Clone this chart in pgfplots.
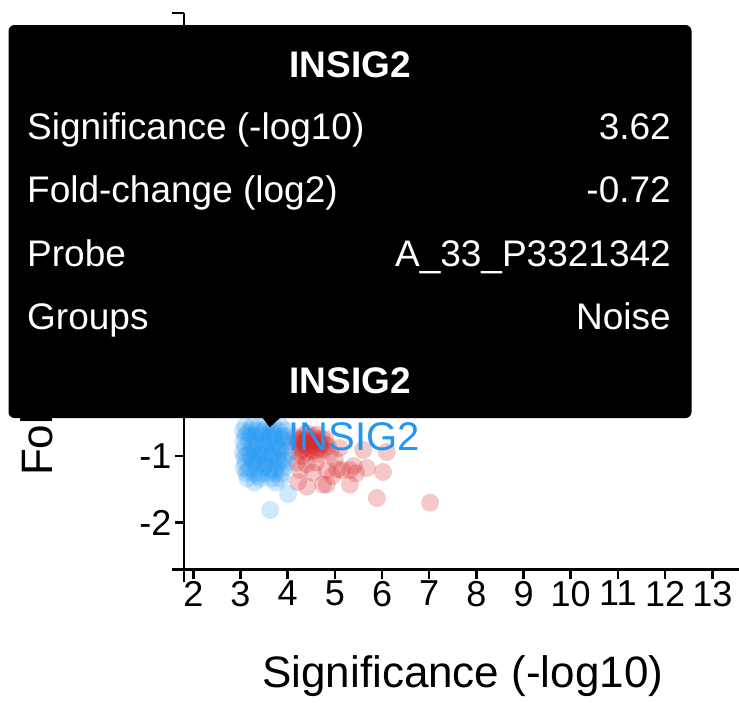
\documentclass[border=0pt]{standalone}
\usepackage{pgfplots}
\usepackage{pgfplotstable}
\pgfplotsset{compat=1.18}
\usepackage{fontspec}
\setmainfont{Liberation Sans}

\definecolor{sigred}{RGB}{214,39,40}
\definecolor{noiseblue}{RGB}{33,150,243}

% probes below the fold-change cut (group: Noise)
\pgfplotstableread{
x y
3.10 -0.55
3.25 -0.55
3.40 -0.55
3.55 -0.55
3.70 -0.55
3.85 -0.55
3.05 -0.62
3.20 -0.62
3.35 -0.62
3.50 -0.62
3.65 -0.62
3.80 -0.62
3.95 -0.62
3.10 -0.70
3.22 -0.70
3.30 -0.70
3.45 -0.70
3.58 -0.70
3.62 -0.72
3.72 -0.70
3.88 -0.70
3.98 -0.70
3.06 -0.78
3.18 -0.78
3.33 -0.78
3.47 -0.78
3.60 -0.78
3.75 -0.78
3.90 -0.78
4.00 -0.78
3.10 -0.86
3.25 -0.86
3.38 -0.86
3.52 -0.86
3.66 -0.86
3.80 -0.86
3.93 -0.86
3.05 -0.94
3.20 -0.94
3.30 -0.94
3.45 -0.94
3.57 -0.94
3.70 -0.94
3.85 -0.94
4.00 -0.94
3.08 -1.02
3.22 -1.02
3.36 -1.02
3.50 -1.02
3.63 -1.02
3.78 -1.02
3.92 -1.02
3.10 -1.10
3.27 -1.10
3.40 -1.10
3.55 -1.10
3.68 -1.10
3.82 -1.10
3.97 -1.10
3.07 -1.18
3.20 -1.18
3.35 -1.18
3.48 -1.18
3.62 -1.18
3.76 -1.18
3.90 -1.18
3.12 -1.26
3.30 -1.26
3.45 -1.26
3.60 -1.26
3.74 -1.26
3.88 -1.26
3.15 -1.34
3.42 -1.34
3.66 -1.34
3.85 -1.34
3.30 -1.40
3.75 -1.40
3.15 -0.66
3.42 -0.66
3.70 -0.66
3.90 -0.74
3.28 -0.82
3.55 -0.82
3.84 -0.90
3.14 -0.98
3.40 -0.98
3.66 -0.98
3.94 -1.06
3.28 -1.06
3.52 -1.14
3.16 -1.22
3.70 -1.22
3.38 -1.30
4.01 -1.57
3.63 -1.81
}\noisetable

% probes passing both cuts
\pgfplotstableread{
x y
4.25 -0.75
4.35 -0.80
4.45 -0.72
4.55 -0.85
4.65 -0.78
4.75 -0.90
4.30 -0.90
4.40 -0.95
4.50 -0.82
4.60 -0.92
4.70 -0.82
4.85 -0.85
4.20 -0.85
4.35 -0.68
4.55 -0.70
4.80 -0.75
4.45 -0.88
4.65 -0.97
4.25 -0.95
4.90 -0.95
4.40 -0.78
4.60 -0.75
4.30 -1.00
4.15 -0.72
4.28 -0.82
4.38 -0.86
4.48 -0.78
4.58 -0.80
4.68 -0.88
4.78 -0.82
4.32 -0.74
4.52 -0.92
4.42 -0.66
4.62 -0.68
4.72 -0.74
4.22 -0.78
4.26 -1.21
4.54 -1.25
4.83 -1.21
5.15 -1.21
5.32 -1.21
5.68 -1.18
6.02 -1.24
4.22 -1.39
4.41 -1.46
4.75 -1.43
4.83 -1.43
5.32 -1.43
5.60 -0.91
6.10 -0.94
5.89 -1.63
7.02 -1.70
4.20 -1.10
4.40 -1.12
4.60 -1.10
5.00 -1.05
4.95 -1.30
5.45 -1.26
5.10 -0.88
5.05 -1.20
5.40 -1.15
}\sigtable

\begin{document}
\begin{tikzpicture}
\path[use as bounding box] (0pt,0pt) rectangle (739pt,-702pt);
\clip (0pt,0pt) rectangle (739pt,-702pt);
\begin{axis}[
  at={(184pt,-569.5pt)}, anchor=south west,
  x=47.18pt, y=66.7pt,
  xmin=1.803, xmax=13.62, ymin=-2.702, ymax=5.642,
  axis lines=left,
  axis line style={-, line width=2.6pt, black},
  clip=false,
  xtick={2,...,13}, ytick={-2,...,5},
  tick align=outside,
  major tick length=9pt,
  tick style={line width=2.6pt, black},
  /pgf/number format/assume math mode=true,
  ticklabel style={font=\fontsize{36}{36}\selectfont},
  xticklabel style={yshift=1pt},
  xlabel={Significance (-log10)},
  ylabel={Fold-change (log2)},
  xlabel style={font=\fontsize{44}{44}\selectfont, inner sep=0pt,
    at={([yshift=-117.5pt]axis description cs:0.5,0)}, anchor=base},
  ylabel style={font=\fontsize{44}{44}\selectfont, inner sep=0pt,
    at={([xshift=-131pt]axis description cs:0,0.5)}, anchor=base, rotate=0},
]
\addplot[only marks, mark=*, mark size=9pt, color=sigred,
  mark options={draw opacity=0, line width=0pt, fill=sigred, fill opacity=0.25}] table {\sigtable};
\addplot[only marks, mark=*, mark size=9pt, color=noiseblue,
  mark options={draw opacity=0, line width=0pt, fill=noiseblue, fill opacity=0.22}] table {\noisetable};
% outer ticks at both ends of each axis domain
\draw[line width=2.6pt] ([xshift=-12pt]axis cs:1.803,5.642) -- (axis cs:1.803,5.642);
\draw[line width=2.6pt] ([xshift=-12pt]axis cs:1.803,-2.702) -- (axis cs:1.803,-2.702);
\draw[line width=2.6pt] ([yshift=-12pt]axis cs:1.803,-2.702) -- (axis cs:1.803,-2.702);
\coordinate (hit) at (axis cs:3.62,-0.72);
\end{axis}
% label of the selected probe
\node[anchor=base west, inner sep=0pt, text=noiseblue,
  font=\fontsize{40}{40}\selectfont] at ([xshift=18.7pt,yshift=-12.7pt]hit) {INSIG2};
% hover tooltip for the selected probe
\fill[black, rounded corners=6pt] (8.5pt,-25pt) rectangle (691.5pt,-418pt);
\fill[black] (262pt,-417pt) -- (281pt,-417pt) -- ([yshift=10pt]hit) -- cycle;
\begin{scope}[every node/.style={inner sep=0pt, text=white, font=\fontsize{37}{37}\selectfont}]
\node[anchor=base, font=\bfseries\fontsize{37}{37}\selectfont] at (350pt,-77pt) {INSIG2};
\node[anchor=base west] at (27pt,-139pt) {Significance (-log10)};
\node[anchor=base east] at (671pt,-139pt) {3.62};
\node[anchor=base west] at (27pt,-202pt) {Fold-change (log2)};
\node[anchor=base east] at (671pt,-202pt) {-0.72};
\node[anchor=base west] at (27pt,-266pt) {Probe};
\node[anchor=base east] at (671pt,-266pt) {A\_33\_P3321342};
\node[anchor=base west] at (27pt,-329pt) {Groups};
\node[anchor=base east] at (671pt,-329pt) {Noise};
\node[anchor=base, font=\bfseries\fontsize{37}{37}\selectfont] at (350pt,-393pt) {INSIG2};
\end{scope}
\end{tikzpicture}
\end{document}
